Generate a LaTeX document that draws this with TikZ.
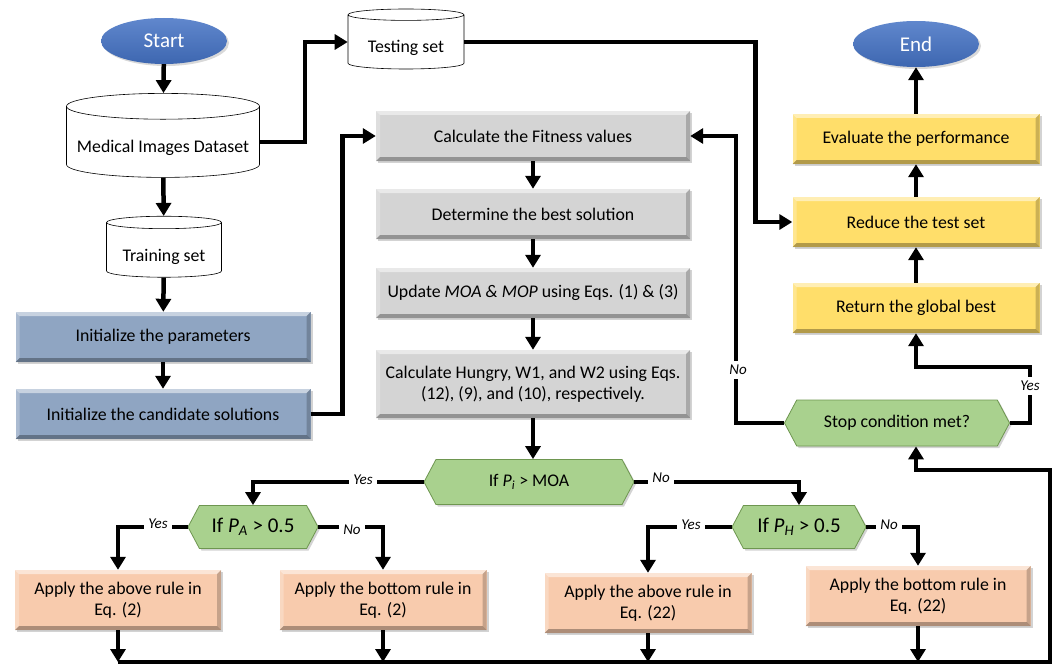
\documentclass[tikz,border=0pt]{standalone}
\usepackage{fontspec}
\setmainfont{Carlito}
\usetikzlibrary{arrows.meta, shapes.geometric, shapes.symbols, shadows}

\definecolor{startblue}{HTML}{4472C4}
\definecolor{steelbox}{HTML}{8FA5C2}
\definecolor{greybox}{HTML}{D4D4D4}
\definecolor{yellowbox}{HTML}{FFDE6A}
\definecolor{greenbox}{HTML}{A9D18E}
\definecolor{peachbox}{HTML}{F8CBAD}

\tikzset{
  bevel/.style={path picture={
      \coordinate (bnw) at (path picture bounding box.north west);
      \coordinate (bse) at (path picture bounding box.south east);
      \fill[white,opacity=.5] (bnw) -- (bnw-|bse) -- ([shift={(-4,4)}]bnw-|bse) -- ([shift={(4,4)}]bnw) -- cycle;
      \fill[white,opacity=.25] (bnw) -- ([shift={(4,4)}]bnw) -- ([shift={(4,-4)}]bnw|-bse) -- (bnw|-bse) -- cycle;
      \fill[black,opacity=.3] (bse) -- (bnw|-bse) -- ([shift={(4,-4)}]bnw|-bse) -- ([shift={(-4,-4)}]bse) -- cycle;
      \fill[black,opacity=.2] (bse) -- ([shift={(-4,-4)}]bse) -- ([shift={(-4,4)}]bnw-|bse) -- (bnw-|bse) -- cycle;
    }},
  txt/.style={font=\fontsize{17.8}{21}\selectfont},
  box/.style={txt, rectangle, bevel, drop shadow={shadow xshift=2pt, shadow yshift=-2pt, opacity=.35}, align=center, inner sep=0pt},
  greystep/.style={box, fill=greybox, minimum width=314, minimum height=50},
  steelstep/.style={box, fill=steelbox, minimum width=295, minimum height=50},
  goldstep/.style={box, fill=yellowbox, minimum width=247, minimum height=50},
  rulestep/.style={box, fill=peachbox, minimum height=60},
  test/.style={txt, signal, signal to=west and east, signal pointer angle=124, fill=greenbox,
    draw={rgb,255:red,110;green,150;blue,80}, line width=.8pt,
    drop shadow={shadow xshift=2pt, shadow yshift=-2pt, opacity=.35}, inner sep=0pt},
  bigtest/.style={test, font=\fontsize{21}{24}\selectfont},
  terminal/.style={ellipse, top color=startblue!85!white, bottom color=startblue!90!black, text=white,
    font=\fontsize{21}{24}\selectfont, minimum width=126, minimum height=46, inner sep=0pt,
    drop shadow={shadow xshift=2pt, shadow yshift=-2pt, opacity=.3}},
  store/.style={txt, cylinder, shape border rotate=90, shape aspect=.15, draw, fill=white, line width=.6pt,
    inner sep=0pt, text height=26pt, text depth=4pt},
  link/.style={line width=4.5pt},
  flow/.style={link, -{Triangle[length=13pt,width=15pt]}},
  lbl/.style={font=\fontsize{15}{18}\selectfont\itshape, fill=white, inner sep=4pt}
}

\begin{document}
\begin{tikzpicture}[x=1pt, y=-1pt]
        \useasboundingbox (0,0) rectangle (1054,666);
        % Left column
        \node[terminal] (start) at (164,41) {Start};
        \node[store, minimum width=193, minimum height=84] (data) at (163,142) {Medical Images Dataset};
        \node[store, minimum width=115, minimum height=61] (train) at (164,250) {Training set};
        \node[store, minimum width=116, minimum height=60] (testset) at (406,42) {Testing set};
        \node[steelstep] (initp) at (163,337) {Initialize the parameters};
        \node[steelstep] (initc) at (163,414) {Initialize the candidate solutions};
        % Middle column
        \node[greystep] (fit) at (533,136) {Calculate the Fitness values};
        \node[greystep] (best) at (533,214) {Determine the best solution};
        \node[greystep] (upd) at (533,293) {Update \textit{MOA \& MOP} using Eqs. (1) \& (3)};
        \node[greystep, minimum height=68] (hung) at (533,384) {Calculate Hungry, W1, and W2 using Eqs.\\(12), (9), and (10), respectively.};
        % Decisions
        \node[test, minimum width=210, minimum height=45] (pimoa) at (529,482) {If \textit{P}\textsubscript{\textit{i}} > MOA};
        \node[bigtest, minimum width=130, minimum height=43] (pa) at (253,527) {If \textit{P}\textsubscript{\textit{A}} > 0.5};
        \node[bigtest, minimum width=134, minimum height=43] (ph) at (799,527) {If \textit{P}\textsubscript{\textit{H}} > 0.5};
        % Update rules
        \node[rulestep, minimum width=206] (ra2) at (118,600) {Apply the above rule in\\Eq. (2)};
        \node[rulestep, minimum width=207] (rb2) at (383,600) {Apply the bottom rule in\\Eq. (2)};
        \node[rulestep, minimum width=207] (ra22) at (648,603) {Apply the above rule in\\Eq. (22)};
        \node[rulestep, minimum width=225] (rb22) at (918,596) {Apply the bottom rule in\\Eq. (22)};
        % Right column
        \node[test, minimum width=225, minimum height=46] (stop) at (897,423) {Stop condition met?};
        \node[goldstep] (ret) at (916,308) {Return the global best};
        \node[goldstep] (red) at (916,222) {Reduce the test set};
        \node[goldstep] (eval) at (916,139) {Evaluate the performance};
        \node[terminal] (finish) at (916,44) {End};
        % Turning points
        \coordinate (bot) at (1050,662);
        \coordinate (loop) at (1050,470);
        \coordinate (yesturn) at (1030,367);
        % Data flow
        \draw[flow] (start) -- (data);
        \draw[flow] (data) -- (train);
        \draw[flow] (train) -- (initp);
        \draw[flow] (initp) -- (initc);
        \draw[flow] (initc.east) -- ++(32,0) |- (fit.west);
        \draw[flow] (data.east) -- ++(45,0) |- (testset.west);
        \draw[flow] (testset.east) -- ++(291,0) |- (red.west);
        \draw[flow] (fit) -- (best);
        \draw[flow] (best) -- (upd);
        \draw[flow] (upd) -- (hung);
        \draw[flow] (hung.south) -- (hung.south |- pimoa.north);
        \draw[flow] (pimoa.west) -| (pa.north);
        \draw[flow] (pimoa.east) -| (ph.north);
        \draw[flow] (pa.west) -| (ra2.north);
        \draw[flow] (pa.east) -| (rb2.north);
        \draw[flow] (ph.west) -| (ra22.north);
        \draw[flow] (ph.east) -| (rb22.north);
        % Back to the stop test
        \foreach \r in {ra2, rb2, ra22, rb22}
            \draw[flow] (\r.south) -- (\r.south |- bot);
        \draw[flow] (ra2.south |- bot) -- (bot) -- (loop) -| (ret.south |- stop.south);
        \draw[flow] (stop.west) -- ++(-48,0) |- (fit.east);
        \draw[flow] (stop.east) -| (yesturn) -| (ret.south);
        \draw[flow] (ret) -- (red);
        \draw[flow] (red) -- (eval);
        \draw[flow] (eval) -- (finish);
        % Branch labels
        \node[lbl] (yesmoa) at (363,480) {Yes};
        \node[lbl] (nomoa) at (661,478) {No};
        \node[lbl] (yespa) at (158,524) {Yes};
        \node[lbl] (nopa) at (352,530) {No};
        \node[lbl] (yesph) at (691,525) {Yes};
        \node[lbl] (noph) at (889,525) {No};
        \node[lbl] (nostop) at (738,370) {No};
        \node[lbl] (yesstop) at (1030,386) {Yes};
    \end{tikzpicture}
\end{document}
